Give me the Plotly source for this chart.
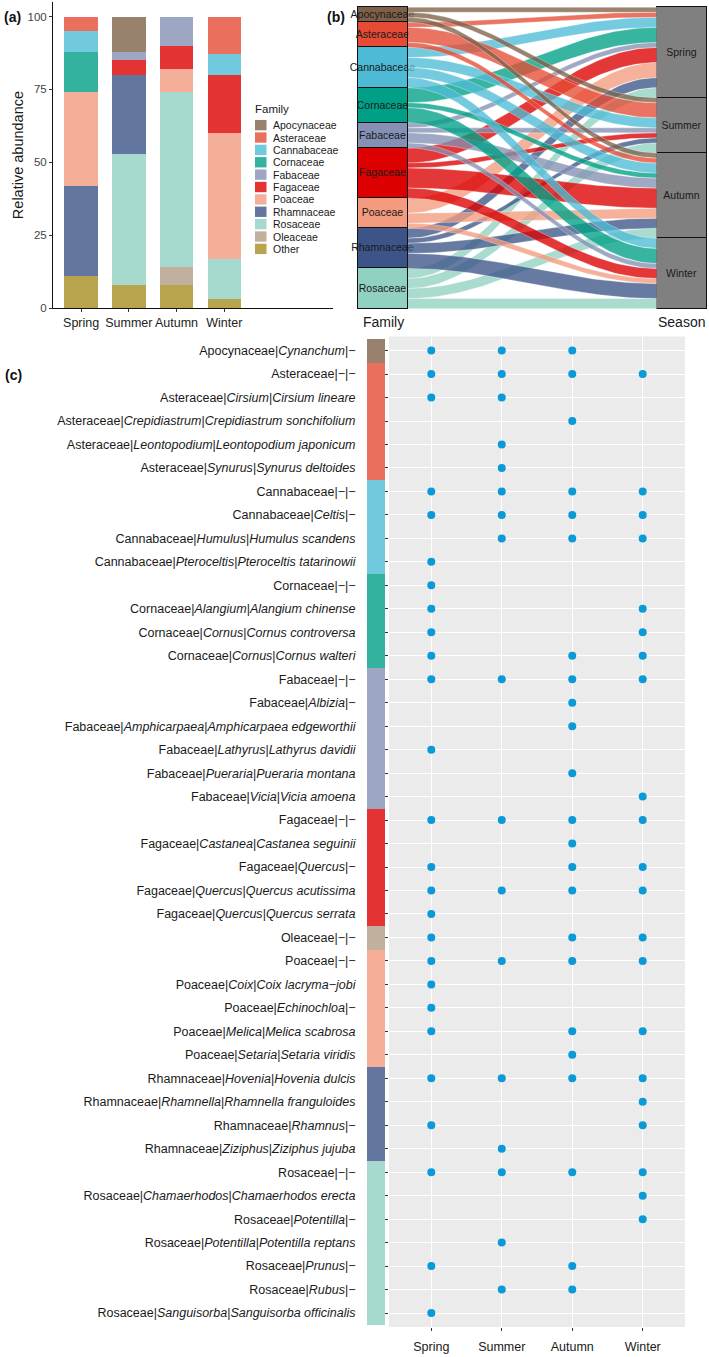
import numpy as np
import plotly.graph_objects as go

# ---------------- DATA ----------------
seasons = ["Spring", "Summer", "Autumn", "Winter"]

# Panel (a): relative abundance (%) per season, stacked
legend_families = ["Apocynaceae", "Asteraceae", "Cannabaceae", "Cornaceae", "Fabaceae",
                   "Fagaceae", "Poaceae", "Rhamnaceae", "Rosaceae", "Oleaceae", "Other"]
abund_apocynaceae = [0, 12, 0, 0]
abund_asteraceae = [5, 0, 0, 13]
abund_cannabaceae = [7, 0, 0, 7]
abund_cornaceae = [14, 0, 0, 0]
abund_fabaceae = [0, 3, 10, 0]
abund_fagaceae = [0, 5, 8, 20]
abund_poaceae = [32, 0, 8, 43]
abund_rhamnaceae = [31, 27, 0, 0]
abund_rosaceae = [0, 45, 60, 14]
abund_oleaceae = [0, 0, 6, 0]
abund_other = [11, 8, 8, 3]

# Panel (b): alluvial flow widths family -> season (Spring, Summer, Autumn, Winter)
alluvial_families = ["Apocynaceae", "Asteraceae", "Cannabaceae", "Cornaceae", "Fabaceae",
                     "Fagaceae", "Poaceae", "Rhamnaceae", "Rosaceae"]
flow_apocynaceae = [1, 1, 1, 0]
flow_asteraceae = [1, 3, 1, 0]
flow_cannabaceae = [2, 2, 2, 2]
flow_cornaceae = [3, 0, 1, 3]
flow_fabaceae = [1, 1, 2, 1]
flow_fagaceae = [3, 1, 4, 2]
flow_poaceae = [3, 0, 2, 1]
flow_rhamnaceae = [2, 1, 2, 3]
flow_rosaceae = [2, 2, 2, 2]

# Panel (c): taxa and presence by season
taxon_family = ["Apocynaceae",
                "Asteraceae", "Asteraceae", "Asteraceae", "Asteraceae", "Asteraceae",
                "Cannabaceae", "Cannabaceae", "Cannabaceae", "Cannabaceae",
                "Cornaceae", "Cornaceae", "Cornaceae", "Cornaceae",
                "Fabaceae", "Fabaceae", "Fabaceae", "Fabaceae", "Fabaceae", "Fabaceae",
                "Fagaceae", "Fagaceae", "Fagaceae", "Fagaceae", "Fagaceae",
                "Oleaceae",
                "Poaceae", "Poaceae", "Poaceae", "Poaceae", "Poaceae",
                "Rhamnaceae", "Rhamnaceae", "Rhamnaceae", "Rhamnaceae",
                "Rosaceae", "Rosaceae", "Rosaceae", "Rosaceae", "Rosaceae", "Rosaceae", "Rosaceae"]
taxon_genus = ["Cynanchum",
               "", "Cirsium", "Crepidiastrum", "Leontopodium", "Synurus",
               "", "Celtis", "Humulus", "Pteroceltis",
               "", "Alangium", "Cornus", "Cornus",
               "", "Albizia", "Amphicarpaea", "Lathyrus", "Pueraria", "Vicia",
               "", "Castanea", "Quercus", "Quercus", "Quercus",
               "",
               "", "Coix", "Echinochloa", "Melica", "Setaria",
               "Hovenia", "Rhamnella", "Rhamnus", "Ziziphus",
               "", "Chamaerhodos", "Potentilla", "Potentilla", "Prunus", "Rubus", "Sanguisorba"]
taxon_species = ["",
                 "", "Cirsium lineare", "Crepidiastrum sonchifolium", "Leontopodium japonicum", "Synurus deltoides",
                 "", "", "Humulus scandens", "Pteroceltis tatarinowii",
                 "", "Alangium chinense", "Cornus controversa", "Cornus walteri",
                 "", "", "Amphicarpaea edgeworthii", "Lathyrus davidii", "Pueraria montana", "Vicia amoena",
                 "", "Castanea seguinii", "", "Quercus acutissima", "Quercus serrata",
                 "",
                 "", "Coix lacryma\u2212jobi", "", "Melica scabrosa", "Setaria viridis",
                 "Hovenia dulcis", "Rhamnella franguloides", "", "Ziziphus jujuba",
                 "", "Chamaerhodos erecta", "", "Potentilla reptans", "", "", "Sanguisorba officinalis"]
present_spring = [1, 1, 1, 0, 0, 0, 1, 1, 0, 1, 1, 1, 1, 1, 1, 0, 0, 1, 0, 0, 1,
                  0, 1, 1, 1, 1, 1, 1, 1, 1, 0, 1, 0, 1, 0, 1, 0, 0, 0, 1, 0, 1]
present_summer = [1, 1, 1, 0, 1, 1, 1, 1, 1, 0, 0, 0, 0, 0, 1, 0, 0, 0, 0, 0, 1,
                  0, 0, 1, 0, 0, 1, 0, 0, 0, 0, 1, 0, 0, 1, 1, 0, 0, 1, 0, 1, 0]
present_autumn = [1, 1, 0, 1, 0, 0, 1, 1, 1, 0, 0, 0, 0, 1, 1, 1, 1, 0, 1, 0, 1,
                  1, 1, 1, 0, 1, 1, 0, 0, 1, 1, 1, 0, 0, 0, 1, 0, 0, 0, 1, 1, 0]
present_winter = [0, 1, 0, 0, 0, 0, 1, 1, 1, 0, 0, 1, 1, 1, 1, 0, 0, 0, 0, 1, 1,
                  0, 1, 1, 0, 1, 1, 0, 0, 1, 0, 1, 1, 1, 0, 1, 1, 1, 0, 0, 0, 0]

# ---------------- STYLE ----------------
W, H = 709, 1357
FONT = "Liberation Sans, Arial, sans-serif"
base_colors = {
    "Apocynaceae": (126, 97, 72), "Asteraceae": (230, 75, 53), "Cannabaceae": (77, 187, 213),
    "Cornaceae": (0, 160, 135), "Fabaceae": (132, 145, 180), "Fagaceae": (220, 0, 0),
    "Poaceae": (243, 155, 127), "Rhamnaceae": (60, 84, 136), "Rosaceae": (145, 209, 194),
    "Oleaceae": (176, 156, 133), "Other": (166, 141, 31),
}


def rgba(name, a):
    r, g, b = base_colors[name]
    return f"rgba({r},{g},{b},{a})"


def px_x(p):
    return p / W


def px_y(p):
    return 1 - p / H


fig = go.Figure()

# ---------------- PANEL (a) ----------------
abund = {
    "Apocynaceae": abund_apocynaceae, "Asteraceae": abund_asteraceae,
    "Cannabaceae": abund_cannabaceae, "Cornaceae": abund_cornaceae,
    "Fabaceae": abund_fabaceae, "Fagaceae": abund_fagaceae, "Poaceae": abund_poaceae,
    "Rhamnaceae": abund_rhamnaceae, "Rosaceae": abund_rosaceae,
    "Oleaceae": abund_oleaceae, "Other": abund_other,
}
for fam in reversed(legend_families):
    fig.add_trace(go.Bar(x=seasons, y=abund[fam], name=fam, width=0.7,
                         marker=dict(color=rgba(fam, 0.8), line=dict(width=0)),
                         xaxis="x", yaxis="y", showlegend=False, hoverinfo="x+y+name"))

# ggplot-like legend for panel (a)
ann = []
shapes = []
ann.append(dict(text="Family", x=px_x(253), y=px_y(109), xref="paper", yref="paper",
                xanchor="left", yanchor="middle", showarrow=False,
                font=dict(size=11.5, color="#1a1a1a", family=FONT)))
for i, fam in enumerate(legend_families):
    yc = 125.7 + i * 12.43
    shapes.append(dict(type="rect", xref="paper", yref="paper",
                       x0=px_x(255), x1=px_x(266.5), y0=px_y(yc - 5.2), y1=px_y(yc + 5.2),
                       fillcolor=rgba(fam, 0.8), line=dict(width=0)))
    ann.append(dict(text=fam, x=px_x(271), y=px_y(yc), xref="paper", yref="paper",
                    xanchor="left", yanchor="middle", showarrow=False,
                    font=dict(size=10.5, color="#1a1a1a", family=FONT)))

# ---------------- PANEL (b) ----------------
fam_flows = [flow_apocynaceae, flow_asteraceae, flow_cannabaceae, flow_cornaceae,
             flow_fabaceae, flow_fagaceae, flow_poaceae, flow_rhamnaceae, flow_rosaceae]
fam_tot = [sum(v) for v in fam_flows]
season_tot = [sum(v[j] for v in fam_flows) for j in range(4)]
N = sum(fam_tot)
node_w = 0.1675
xl, xr = 1 + node_w / 2, 2 - node_w / 2

left_pos, right_pos = {}, {}
cur = N
for i, v in enumerate(fam_flows):
    c = cur
    for j in range(4):
        left_pos[(i, j)] = (c, c - v[j])
        c -= v[j]
    cur -= fam_tot[i]
cur = N
for j in range(4):
    c = cur
    for i, v in enumerate(fam_flows):
        right_pos[(i, j)] = (c, c - v[j])
        c -= v[j]
    cur -= season_tot[j]

t = np.linspace(0, 1, 60)
s = (1 - np.cos(np.pi * t)) / 2
xs = xl + (xr - xl) * t
for i in reversed(range(len(fam_flows))):
    fam = alluvial_families[i]
    for j in range(4):
        if fam_flows[i][j] <= 0:
            continue
        lt, lb = left_pos[(i, j)]
        rt, rb = right_pos[(i, j)]
        ytop = lt + (rt - lt) * s
        ybot = lb + (rb - lb) * s
        fig.add_trace(go.Scatter(
            x=np.concatenate([xs, xs[::-1]]), y=np.concatenate([ytop, ybot[::-1]]),
            fill="toself", fillcolor=rgba(fam, 0.78), mode="lines",
            line=dict(width=0.6, color="rgba(255,255,255,0.55)"),
            xaxis="x2", yaxis="y2", showlegend=False, hoverinfo="skip"))

for i in reversed(range(len(fam_flows))):
    fam = alluvial_families[i]
    fig.add_trace(go.Bar(x=[1], y=[fam_tot[i]], width=node_w, text=[fam],
                         textposition="inside", insidetextanchor="middle", textangle=0,
                         constraintext="none", cliponaxis=False,
                         textfont=dict(size=10.5, color="#1a1a1a", family=FONT),
                         marker=dict(color=rgba(fam, 1), line=dict(color="#111", width=1)),
                         xaxis="x2", yaxis="y2", showlegend=False, hoverinfo="text"))
for j in reversed(range(4)):
    fig.add_trace(go.Bar(x=[2], y=[season_tot[j]], width=node_w, text=[seasons[j]],
                         textposition="inside", insidetextanchor="middle", textangle=0,
                         constraintext="none",
                         textfont=dict(size=10.5, color="#1a1a1a", family=FONT),
                         marker=dict(color="#808080", line=dict(color="#111", width=1)),
                         xaxis="x2", yaxis="y2", showlegend=False, hoverinfo="text"))

# ---------------- PANEL (c) ----------------
def part(txt):
    return f"<i>{txt}</i>" if txt else "\u2212"


taxon_labels = [f"{f}|{part(g)}|{part(sp)}" for f, g, sp in zip(taxon_family, taxon_genus, taxon_species)]

fig.add_trace(go.Bar(x=[1] * len(taxon_labels), y=taxon_labels, orientation="h", width=1,
                     marker=dict(color=[rgba(f, 0.8) for f in taxon_family], line=dict(width=0)),
                     xaxis="x3", yaxis="y3", showlegend=False, hoverinfo="y"))

dot_x, dot_y = [], []
for j, pres in enumerate([present_spring, present_summer, present_autumn, present_winter]):
    for k, p in enumerate(pres):
        if p:
            dot_x.append(seasons[j])
            dot_y.append(taxon_labels[k])
fig.add_trace(go.Scatter(x=dot_x, y=dot_y, mode="markers",
                         marker=dict(color="#0A9AD7", size=8, line=dict(width=0)),
                         xaxis="x4", yaxis="y4", showlegend=False, hoverinfo="x+y"))

shapes.append(dict(type="rect", xref="x4 domain", yref="y4 domain", x0=0, x1=1, y0=0, y1=1,
                   fillcolor="#EBEBEB", line=dict(width=0), layer="below"))

# titles / panel labels
for txt, x, y in [("(a)", 2, 17), ("(b)", 325, 17), ("(c)", 3, 377)]:
    ann.append(dict(text=f"<b>{txt}</b>", x=px_x(x), y=px_y(y), xref="paper", yref="paper",
                    xanchor="left", yanchor="middle", showarrow=False,
                    font=dict(size=14, color="#111", family=FONT)))
for txt, x in [("Family", 383), ("Season", 681.5)]:
    ann.append(dict(text=txt, x=px_x(x), y=px_y(323), xref="paper", yref="paper",
                    xanchor="center", yanchor="middle", showarrow=False,
                    font=dict(size=14, color="#1a1a1a", family=FONT)))

tickfont_c = dict(size=12.5, color="#1a1a1a", family=FONT)
fig.update_layout(
    width=W, height=H, margin=dict(l=0, r=0, t=0, b=0),
    paper_bgcolor="white", plot_bgcolor="rgba(0,0,0,0)",
    barmode="stack", bargap=0, showlegend=False,
    font=dict(family=FONT, color="#222"),
    annotations=ann, shapes=shapes,
    xaxis=dict(domain=[px_x(53), px_x(333)], range=[-0.59, 5.28], type="category",
               categoryorder="array", categoryarray=seasons,
               showline=True, linecolor="#111", linewidth=1, ticks="outside", ticklen=3,
               tickcolor="#333", tickfont=dict(size=12.5, color="#222", family=FONT),
               showgrid=False, zeroline=False, anchor="y", fixedrange=True),
    yaxis=dict(domain=[px_y(309.5), px_y(2)], range=[0, 105], tickvals=[0, 25, 50, 75, 100],
               showline=True, linecolor="#111", linewidth=1, ticks="outside", ticklen=3,
               tickcolor="#333", tickfont=dict(size=11.5, color="#444", family=FONT),
               showgrid=False, zeroline=False,
               title=dict(text="Relative abundance", font=dict(size=14.5, color="#1a1a1a", family=FONT),
                          standoff=0),
               anchor="x", fixedrange=True),
    xaxis2=dict(domain=[px_x(340), 1], range=[0.856, 2.092], visible=False, anchor="y2"),
    yaxis2=dict(domain=[px_y(312), px_y(5)], range=[-0.396, 60.456], visible=False, anchor="x2"),
    xaxis3=dict(domain=[px_x(366.5), px_x(385)], range=[0, 1], visible=False, anchor="y3"),
    yaxis3=dict(domain=[px_y(1333), px_y(338)], type="category", categoryorder="array",
                categoryarray=taxon_labels, range=[len(taxon_labels) - 0.4, -0.6],
                ticks="", showgrid=False, zeroline=False, showline=False,
                tickfont=tickfont_c, ticklabelstandoff=10, anchor="x3"),
    xaxis4=dict(domain=[px_x(389), px_x(685)], type="category", categoryorder="array",
                categoryarray=seasons, range=[-0.6, 3.6], showgrid=True, gridcolor="white",
                gridwidth=1.3, ticks="outside", ticklen=3, tickcolor="#333", tickfont=tickfont_c,
                ticklabelstandoff=5, zeroline=False, showline=False, anchor="y4"),
    yaxis4=dict(domain=[px_y(1333), px_y(338)], type="category", categoryorder="array",
                categoryarray=taxon_labels, range=[len(taxon_labels) - 0.4, -0.6],
                showticklabels=False, ticks="outside", ticklen=3, tickcolor="#333",
                showgrid=True, gridcolor="white", gridwidth=1.3, zeroline=False,
                showline=False, anchor="x4"),
)

fig.write_html("out.html", config={"displayModeBar": False},
               post_script="document.body.style.margin='0';")
